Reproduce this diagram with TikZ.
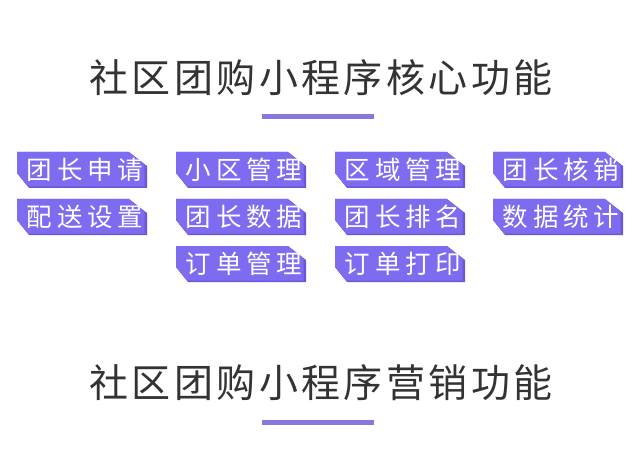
\documentclass[tikz,border=0pt]{standalone}
\usepackage{fontspec}
\newfontfamily\titlefont[LetterSpace=8.7]{Noto Sans CJK SC}
\newfontfamily\tagfont[LetterSpace=19]{Noto Sans CJK SC}
\definecolor{titlegray}{HTML}{333333}
\definecolor{barcol}{HTML}{8777DE}
\definecolor{taglight}{HTML}{7D6CF0}
\definecolor{tagdark}{HTML}{6A58D8}
\tikzset{
  titletext/.style={inner sep=0pt, text=titlegray, font=\titlefont\fontsize{39}{41}\selectfont},
  tagtext/.style={inner sep=0pt, text=white, font=\tagfont\fontsize{25.5}{27}\selectfont},
  bar/.style={fill=barcol, draw=none},
}
\newcommand\tagshape{(0,0) -- (112,0) -- (130,-14) -- (130,-36) -- (12,-36) -- (0,-21) -- cycle}
\newcommand\mytag[4]{%
  \begin{scope}[shift={(#1,#2)}]
    \fill[tagdark] \tagshape;
    \begin{scope}
      \clip \tagshape;
      \fill[taglight, shift={(-2.5,1.5)}] \tagshape;
    \end{scope}
    \node[tagtext] (#3) at (68,-18) {#4};
  \end{scope}}
\begin{document}
\begin{tikzpicture}[x=1pt,y=1pt]
  \useasboundingbox[fill=white] (0,0) rectangle (640,456);
  % titles
  \node[titletext] (title1) at (321,378) {社区团购小程序核心功能};
  \fill[bar] (262,337) rectangle (374,342);
  \node[titletext] (title2) at (321,73) {社区团购小程序营销功能};
  \fill[bar] (262,31) rectangle (374,36);
  % tags row 1
  \mytag{17}{304}{t11}{团长申请}
  \mytag{176}{304}{t12}{小区管理}
  \mytag{335}{304}{t13}{区域管理}
  \mytag{493}{304}{t14}{团长核销}
  % row 2
  \mytag{17}{257}{t21}{配送设置}
  \mytag{176}{257}{t22}{团长数据}
  \mytag{335}{257}{t23}{团长排名}
  \mytag{493}{257}{t24}{数据统计}
  % row 3
  \mytag{176}{210}{t32}{订单管理}
  \mytag{335}{210}{t33}{订单打印}
\end{tikzpicture}
\end{document}
